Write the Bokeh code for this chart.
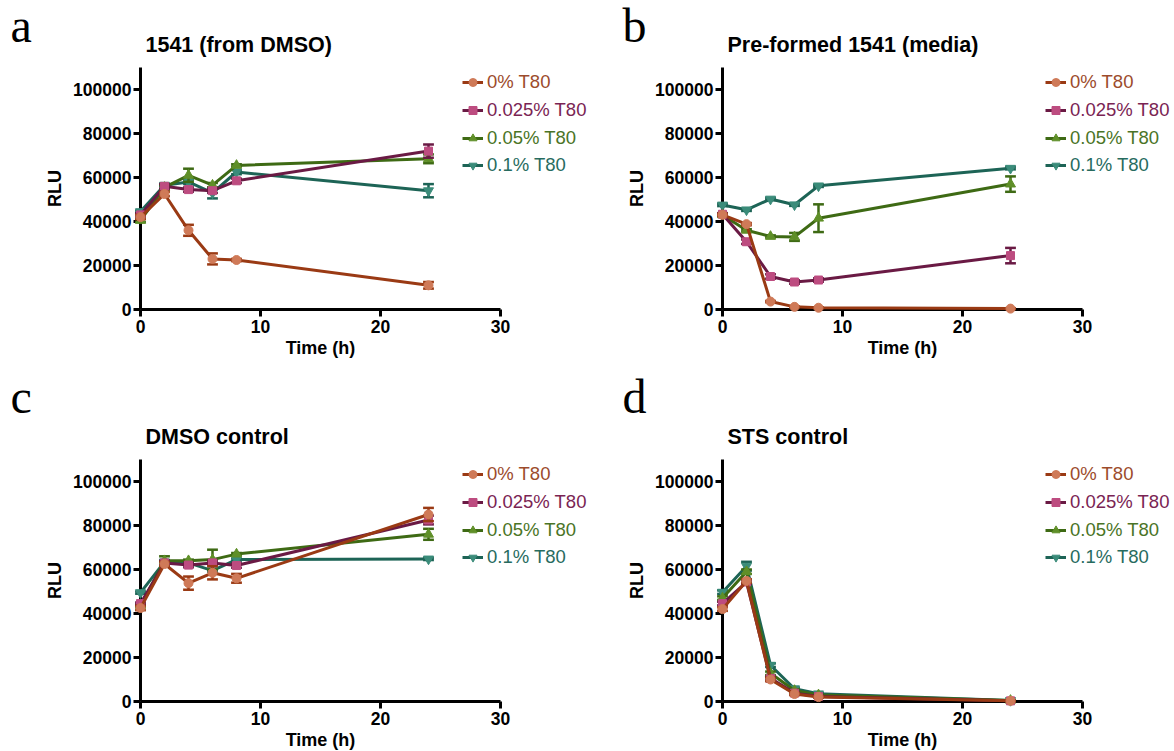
from bokeh.plotting import figure
from bokeh.models import Range1d, Legend, LegendItem, FixedTicker, BasicTickFormatter
from bokeh.layouts import row, column
from bokeh.embed import file_html
from bokeh.resources import INLINE
from bokeh.core.properties import value

# ---------------- data ----------------
time_h = [0, 2, 4, 6, 8, 24]
series_labels = ["0% T80", "0.025% T80", "0.05% T80", "0.1% T80"]
x_ticks = [0, 10, 20, 30]
y_ticks = [0, 20000, 40000, 60000, 80000, 100000]
panel_letters = ["a", "b", "c", "d"]
panel_titles = ["1541 (from DMSO)", "Pre-formed 1541 (media)", "DMSO control", "STS control"]
x_label = "Time (h)"
y_label = "RLU"

# panel a : 1541 (from DMSO)
a_t80_0 = [42000, 52500, 36000, 23000, 22500, 11000]
a_t80_0025 = [43000, 56000, 54500, 54000, 58500, 72000]
a_t80_005 = [40500, 55500, 61000, 56500, 65500, 68500]
a_t80_01 = [44500, 56500, 58000, 53000, 62500, 54000]
a_err_0 = [1000, 1000, 2500, 2500, 500, 1500]
a_err_0025 = [800, 1000, 1000, 1000, 1000, 3000]
a_err_005 = [800, 1000, 3000, 1000, 500, 2000]
a_err_01 = [500, 500, 1000, 2500, 1000, 3000]

# panel b : Pre-formed 1541 (media)
b_t80_0 = [43000, 38800, 3600, 1200, 800, 400]
b_t80_0025 = [43300, 30800, 15000, 12500, 13400, 24500]
b_t80_005 = [43000, 36000, 33200, 33000, 41500, 57000]
b_t80_01 = [47500, 45300, 50200, 47600, 56200, 64200]
b_err_0 = [500, 500, 300, 200, 200, 200]
b_err_0025 = [500, 1000, 1000, 800, 800, 3500]
b_err_005 = [500, 500, 500, 1800, 6300, 3500]
b_err_01 = [500, 500, 500, 500, 500, 500]

# panel c : DMSO control
c_t80_0 = [42500, 62500, 53800, 58500, 56000, 85000]
c_t80_0025 = [44500, 63000, 62000, 63000, 61800, 82500]
c_t80_005 = [43500, 64000, 64000, 64500, 67000, 76000]
c_t80_01 = [49500, 63500, 63000, 59500, 64500, 64800]
c_err_0 = [1000, 1000, 3000, 3000, 2000, 3000]
c_err_0025 = [500, 1000, 1000, 1000, 1000, 2000]
c_err_005 = [500, 2000, 500, 4500, 500, 2500]
c_err_01 = [500, 500, 500, 500, 500, 500]

# panel d : STS control
d_t80_0 = [42000, 54800, 10000, 3400, 2000, 300]
d_t80_0025 = [44500, 54300, 10500, 3800, 2300, 300]
d_t80_005 = [47000, 59000, 12800, 5000, 3000, 500]
d_t80_01 = [49700, 61500, 16500, 5800, 3500, 500]
d_err_0 = [800, 800, 800, 500, 300, 200]
d_err_0025 = [800, 800, 800, 500, 300, 200]
d_err_005 = [800, 1000, 800, 500, 300, 200]
d_err_01 = [800, 2000, 800, 500, 300, 200]

# ---------------- style ----------------
line_colors = ["#9a3a14", "#6a1a44", "#3e6a14", "#1d6456"]
marker_colors = ["#cf7a58", "#bd4c80", "#5f8f28", "#3b8c7a"]
text_colors = ["#9c4b2c", "#7a2453", "#4a7426", "#276b5e"]
markers = ["circle", "square", "triangle", "inverted_triangle"]
marker_sizes = [9, 8, 10, 10]
legend_offsets = [16, 44, 72, 99]
FONT = "Liberation Sans"
FRAME_H = 242
PX_PER_30H = 360.0
X_END = 30
Y_END = 110000


def make_panel(letter, title, values, errors, width, height, left, top, bottom,
               letter_dx, letter_dy, legend_x):
    x_max = X_END * (width - left) / PX_PER_30H
    p = figure(width=width, height=height, x_range=Range1d(0, x_max), y_range=Range1d(0, Y_END),
               output_backend="svg", toolbar_location=None,
               min_border_left=left, min_border_right=0,
               min_border_top=top, min_border_bottom=bottom)
    p.outline_line_color = None
    p.grid.visible = False
    p.background_fill_color = "white"
    p.border_fill_color = "white"
    p.xaxis.ticker = FixedTicker(ticks=x_ticks)
    p.yaxis.ticker = FixedTicker(ticks=y_ticks)
    p.xaxis.bounds = (0, X_END)
    p.yaxis.formatter = BasicTickFormatter(use_scientific=False)
    for ax in (p.xaxis[0], p.yaxis[0]):
        ax.axis_line_width = 3
        ax.axis_line_color = "black"
        ax.major_tick_line_width = 3
        ax.major_tick_line_color = "black"
        ax.major_tick_out = 7
        ax.major_tick_in = 0
        ax.minor_tick_line_color = None
        ax.major_label_text_font = FONT
        ax.major_label_text_font_style = "bold"
        ax.major_label_text_font_size = "17.5px"
        ax.major_label_text_color = "black"
    p.xaxis.major_label_standoff = 3
    p.yaxis.major_label_standoff = 2
    p.yaxis.axis_label = y_label
    p.yaxis.axis_label_text_font = FONT
    p.yaxis.axis_label_text_font_style = "bold"
    p.yaxis.axis_label_text_font_size = "18px"
    p.yaxis.axis_label_text_color = "black"
    p.yaxis.axis_label_standoff = 5

    rends = {}
    for i in [3, 2, 1, 0]:
        vals = values[i]
        errs = errors[i]
        lo = [v - e for v, e in zip(vals, errs)]
        hi = [v + e for v, e in zip(vals, errs)]
        cl = [t - 0.45 for t in time_h]
        cr = [t + 0.45 for t in time_h]
        p.segment(x0=time_h, y0=lo, x1=time_h, y1=hi, line_color=line_colors[i],
                  line_width=2.5, level="overlay")
        p.segment(x0=cl, y0=hi, x1=cr, y1=hi, line_color=line_colors[i], line_width=2.5,
                  level="overlay")
        p.segment(x0=cl, y0=lo, x1=cr, y1=lo, line_color=line_colors[i], line_width=2.5,
                  level="overlay")
        rl = p.line(time_h, vals, line_color=line_colors[i], line_width=3, level="overlay")
        rs = p.scatter(time_h, vals, marker=markers[i], size=marker_sizes[i],
                       fill_color=marker_colors[i], line_color=marker_colors[i], level="overlay")
        rends[i] = [rl, rs]

    for i in range(4):
        d = legend_offsets[i]
        lg = Legend(items=[LegendItem(label=series_labels[i], renderers=rends[i])],
                    location=(legend_x, FRAME_H - d - 10), orientation="vertical",
                    padding=0, spacing=0, margin=0, border_line_color=None,
                    background_fill_alpha=0, label_text_color=text_colors[i],
                    label_text_font=FONT, label_text_font_size="18.5px",
                    glyph_width=21, glyph_height=20, label_height=20, label_standoff=4)
        p.add_layout(lg)

    # panel title, panel letter and x-axis title as unclipped text glyphs
    p.text(x=[0], y=[Y_END], text=[title], x_offset=5, y_offset=-23,
           text_font=value(FONT), text_font_style="bold", text_font_size="21.5px",
           text_baseline="middle", text_align="left", text_color="black", level="overlay")
    p.text(x=[0], y=[Y_END], text=[letter], x_offset=letter_dx, y_offset=-letter_dy,
           text_font=value("Liberation Serif"), text_font_size="48px",
           text_baseline="alphabetic", text_align="left", text_color="black", level="overlay")
    p.text(x=[X_END / 2], y=[0], text=[x_label], x_offset=0, y_offset=38,
           text_font=value(FONT), text_font_style="bold", text_font_size="18px",
           text_baseline="middle", text_align="center", text_color="black", level="overlay")
    return p


pa = make_panel(panel_letters[0], panel_titles[0], [a_t80_0, a_t80_0025, a_t80_005, a_t80_01],
                [a_err_0, a_err_0025, a_err_005, a_err_01], 598, 360, 140, 67, 51, -130, 42, 322)
pb = make_panel(panel_letters[1], panel_titles[1], [b_t80_0, b_t80_0025, b_t80_005, b_t80_01],
                [b_err_0, b_err_0025, b_err_005, b_err_01], 576, 360, 124, 67, 51, -100, 42, 323)
pc = make_panel(panel_letters[2], panel_titles[2], [c_t80_0, c_t80_0025, c_t80_005, c_t80_01],
                [c_err_0, c_err_0025, c_err_005, c_err_01], 598, 390, 140, 99, 49, -130, 63, 322)
pd = make_panel(panel_letters[3], panel_titles[3], [d_t80_0, d_t80_0025, d_t80_005, d_t80_01],
                [d_err_0, d_err_0025, d_err_005, d_err_01], 576, 390, 124, 99, 49, -100, 63, 323)

layout = column(row(pa, pb), row(pc, pd))
open("out.html", "w").write(file_html(layout, INLINE))
